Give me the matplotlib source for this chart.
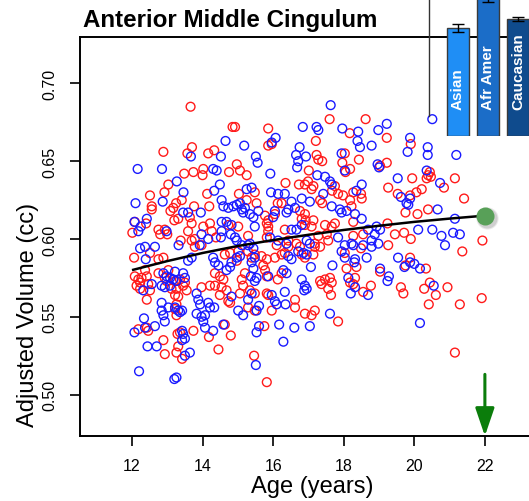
import matplotlib
matplotlib.use("Agg")
import matplotlib.pyplot as plt
import matplotlib.transforms as mtransforms

plt.rcParams['font.family'] = ['Liberation Sans', 'DejaVu Sans']

# Subjects, (age in years, adjusted volume in cc)
red_points = [
    (13.66, 0.685), (14.85, 0.672), (12.89, 0.656), (13.70, 0.659), (13.57, 0.655),
    (14.16, 0.655), (14.33, 0.657), (14.02, 0.645), (13.74, 0.643), (13.48, 0.642),
    (14.00, 0.641), (14.97, 0.648), (14.75, 0.643), (13.03, 0.635), (12.92, 0.630),
    (12.51, 0.628), (14.13, 0.629), (12.56, 0.621), (12.56, 0.619), (13.41, 0.625),
    (13.25, 0.623), (13.17, 0.620), (13.09, 0.618), (13.76, 0.621), (14.19, 0.621),
    (12.08, 0.611), (12.40, 0.610), (12.01, 0.604), (12.75, 0.606), (12.93, 0.606),
    (12.80, 0.603), (13.31, 0.613), (13.64, 0.614), (13.69, 0.610), (13.59, 0.605),
    (13.78, 0.600), (13.69, 0.599), (14.02, 0.608), (14.21, 0.610), (14.26, 0.605),
    (14.38, 0.601), (13.20, 0.612), (14.73, 0.609), (15.03, 0.629), (13.00, 0.603),
    (13.38, 0.599),
    (17.60, 0.677), (18.62, 0.677), (15.86, 0.671), (18.17, 0.668), (17.21, 0.663),
    (15.86, 0.660), (15.96, 0.661), (17.23, 0.654), (17.28, 0.651), (17.39, 0.650),
    (18.03, 0.655), (17.96, 0.649), (18.18, 0.645), (18.05, 0.643), (18.43, 0.651),
    (14.92, 0.672), (15.06, 0.644), (15.25, 0.641), (17.01, 0.644), (16.35, 0.636),
    (16.73, 0.635), (16.90, 0.635), (16.99, 0.637), (17.09, 0.632), (17.14, 0.634),
    (17.75, 0.634), (17.67, 0.631), (17.84, 0.629), (17.98, 0.628), (18.27, 0.630),
    (18.49, 0.629), (15.25, 0.625), (15.48, 0.630), (15.53, 0.623), (16.13, 0.623),
    (16.24, 0.623), (16.05, 0.616), (17.33, 0.625), (17.39, 0.623), (18.18, 0.625),
    (18.51, 0.626), (18.22, 0.621), (15.77, 0.615), (15.86, 0.612), (15.82, 0.610),
    (15.86, 0.608), (16.76, 0.618), (16.90, 0.616), (16.81, 0.613), (16.92, 0.612),
    (16.90, 0.609), (17.14, 0.612), (17.09, 0.608), (17.47, 0.609), (17.66, 0.608),
    (17.75, 0.610), (18.27, 0.611), (16.33, 0.606), (15.01, 0.608), (15.29, 0.602),
    (15.86, 0.605), (15.82, 0.601), (17.28, 0.602), (17.52, 0.603), (17.56, 0.599),
    (18.55, 0.603), (18.27, 0.602), (16.43, 0.599), (16.66, 0.597), (17.18, 0.597),
    (19.22, 0.665), (19.90, 0.661), (19.22, 0.649), (19.03, 0.647), (20.44, 0.643),
    (20.39, 0.641), (20.47, 0.640), (20.35, 0.639), (21.15, 0.639), (19.94, 0.639),
    (19.26, 0.633), (20.21, 0.632), (20.06, 0.630), (19.88, 0.628), (19.53, 0.629),
    (20.84, 0.633), (21.41, 0.626), (20.39, 0.619), (20.09, 0.616), (19.75, 0.617),
    (19.24, 0.610), (19.45, 0.603), (19.71, 0.604), (19.90, 0.600), (21.93, 0.599),
    (19.26, 0.596),
    (12.06, 0.588), (12.75, 0.587), (12.89, 0.588), (12.51, 0.591), (12.08, 0.576),
    (12.18, 0.574), (12.23, 0.572), (12.27, 0.575), (12.13, 0.570), (12.23, 0.568),
    (12.46, 0.571), (12.42, 0.576), (12.51, 0.567), (12.37, 0.580), (12.42, 0.561),
    (12.75, 0.578), (12.93, 0.575), (12.98, 0.573), (13.03, 0.580), (13.22, 0.573),
    (13.36, 0.574), (13.50, 0.572), (13.45, 0.570), (13.55, 0.567), (13.26, 0.568),
    (13.22, 0.564), (13.31, 0.563), (13.12, 0.568), (13.26, 0.558), (13.22, 0.555),
    (13.26, 0.551), (12.18, 0.542), (12.42, 0.543), (12.46, 0.541), (13.29, 0.539),
    (13.36, 0.540), (12.89, 0.535), (12.93, 0.526), (13.26, 0.527), (13.31, 0.531),
    (13.42, 0.523), (13.74, 0.541), (13.97, 0.569), (14.21, 0.570), (14.35, 0.570),
    (14.54, 0.569), (14.68, 0.567), (14.49, 0.564), (14.59, 0.574), (14.73, 0.560),
    (14.78, 0.559), (14.63, 0.545), (14.80, 0.538), (14.18, 0.537), (14.45, 0.529),
    (14.63, 0.590), (14.78, 0.591), (14.97, 0.586), (14.35, 0.578), (14.49, 0.576),
    (13.78, 0.595), (13.97, 0.596),
    (15.82, 0.508), (15.46, 0.525), (15.75, 0.544), (17.84, 0.547), (16.90, 0.552),
    (17.09, 0.551), (17.18, 0.554), (16.62, 0.561), (16.62, 0.556), (15.96, 0.554),
    (15.48, 0.554), (15.29, 0.556), (15.06, 0.565), (15.15, 0.570), (15.11, 0.574),
    (15.20, 0.578), (15.34, 0.567), (15.48, 0.565), (15.82, 0.565), (15.86, 0.564),
    (16.13, 0.574), (16.24, 0.578), (17.33, 0.573), (17.37, 0.571), (17.47, 0.574),
    (17.61, 0.575), (17.56, 0.568), (17.66, 0.572), (17.64, 0.564), (18.08, 0.581),
    (18.18, 0.572), (18.27, 0.571), (18.32, 0.575), (18.36, 0.582), (18.55, 0.566),
    (18.77, 0.570), (15.67, 0.589), (15.82, 0.587), (16.05, 0.588), (16.24, 0.590),
    (16.33, 0.591), (15.72, 0.583), (15.77, 0.580), (15.82, 0.576), (16.81, 0.590),
    (16.90, 0.588), (17.14, 0.590), (17.33, 0.595), (18.03, 0.591), (18.49, 0.594),
    (15.01, 0.592), (15.29, 0.592), (15.39, 0.588), (15.48, 0.590), (16.10, 0.596),
    (16.43, 0.595), (16.76, 0.595), (17.18, 0.595),
    (21.36, 0.592), (19.88, 0.588), (19.75, 0.583), (19.03, 0.579), (20.33, 0.581),
    (19.62, 0.569), (19.69, 0.565), (20.28, 0.568), (20.44, 0.572), (20.61, 0.564),
    (20.41, 0.558), (20.94, 0.569), (21.29, 0.558), (21.91, 0.562), (21.15, 0.527),
]

blue_points = [
    (14.65, 0.663), (12.16, 0.645), (12.85, 0.645), (14.52, 0.653), (13.67, 0.653),
    (14.30, 0.645), (14.40, 0.644), (13.27, 0.637), (14.49, 0.635), (13.46, 0.630),
    (14.33, 0.631), (12.10, 0.623), (12.87, 0.624), (14.54, 0.625), (14.59, 0.621),
    (14.73, 0.620), (14.87, 0.621), (14.97, 0.622), (13.45, 0.617), (13.59, 0.617),
    (13.95, 0.617), (12.07, 0.611), (12.25, 0.608), (12.42, 0.613), (12.18, 0.605),
    (12.98, 0.605), (14.54, 0.611), (14.68, 0.611), (14.82, 0.609), (14.54, 0.605),
    (14.52, 0.601), (14.80, 0.603), (14.92, 0.601), (13.97, 0.603), (14.16, 0.600),
    (13.32, 0.596), (13.92, 0.596),
    (17.63, 0.686), (16.84, 0.672), (17.23, 0.672), (17.28, 0.670), (17.96, 0.671),
    (18.41, 0.669), (16.07, 0.665), (15.96, 0.662), (15.18, 0.660), (16.75, 0.659),
    (18.39, 0.663), (18.46, 0.659), (18.79, 0.660), (16.65, 0.654), (16.93, 0.653),
    (16.71, 0.650), (16.68, 0.646), (15.51, 0.653), (15.56, 0.649), (17.94, 0.655),
    (18.03, 0.644), (18.96, 0.648), (19.00, 0.646), (15.92, 0.642), (17.25, 0.641),
    (17.47, 0.640), (17.61, 0.637), (17.66, 0.635), (18.51, 0.635), (15.94, 0.630),
    (16.14, 0.629), (16.33, 0.629), (17.42, 0.629), (15.25, 0.632), (15.39, 0.633),
    (18.36, 0.631), (16.81, 0.626), (17.04, 0.624), (17.66, 0.621), (16.52, 0.624),
    (16.43, 0.619), (16.62, 0.620), (16.38, 0.617), (15.06, 0.623), (15.11, 0.619),
    (15.15, 0.617), (15.20, 0.620), (15.34, 0.616), (15.44, 0.614), (15.58, 0.618),
    (16.05, 0.618), (16.00, 0.614), (17.89, 0.619), (17.94, 0.617), (18.08, 0.618),
    (18.51, 0.613), (18.32, 0.616), (15.48, 0.608), (16.52, 0.606), (16.66, 0.606),
    (16.81, 0.609), (18.69, 0.606), (18.88, 0.603), (18.93, 0.608), (15.91, 0.601),
    (16.14, 0.599), (16.38, 0.597), (16.95, 0.599), (17.04, 0.597), (17.84, 0.601),
    (18.22, 0.597), (18.03, 0.596), (18.79, 0.599), (18.98, 0.597), (18.55, 0.596),
    (14.97, 0.599), (15.11, 0.596), (15.34, 0.597),
    (20.51, 0.677), (19.22, 0.674), (18.98, 0.670), (19.88, 0.665), (19.81, 0.656),
    (20.38, 0.659), (20.38, 0.654), (21.19, 0.654), (20.35, 0.644), (19.53, 0.639),
    (20.73, 0.636), (19.62, 0.627), (19.88, 0.626), (19.83, 0.622), (19.78, 0.623),
    (20.66, 0.619), (21.15, 0.613), (19.03, 0.606), (20.11, 0.606), (20.51, 0.606),
    (21.10, 0.604), (21.29, 0.603), (20.77, 0.602), (20.87, 0.596),
    (12.23, 0.594), (12.37, 0.595), (12.65, 0.595), (12.39, 0.587), (12.89, 0.578),
    (12.98, 0.576), (13.08, 0.575), (13.22, 0.579), (13.17, 0.574), (12.84, 0.570),
    (12.93, 0.569), (13.08, 0.570), (13.26, 0.573), (13.50, 0.575), (13.45, 0.578),
    (12.56, 0.571), (12.32, 0.567), (12.84, 0.559), (12.84, 0.554), (12.89, 0.551),
    (12.93, 0.547), (13.03, 0.556), (13.22, 0.556), (13.31, 0.554), (13.36, 0.553),
    (13.42, 0.554), (12.34, 0.549), (12.07, 0.540), (12.37, 0.543), (12.65, 0.544),
    (12.44, 0.531), (12.70, 0.531), (13.42, 0.541), (13.45, 0.539), (13.50, 0.536),
    (13.42, 0.535), (13.64, 0.527), (13.50, 0.525), (12.20, 0.515), (13.20, 0.510),
    (13.26, 0.511), (13.83, 0.565), (13.88, 0.561), (13.93, 0.558), (13.83, 0.552),
    (13.97, 0.550), (14.07, 0.551), (14.02, 0.547), (14.07, 0.543), (14.21, 0.556),
    (14.30, 0.541), (14.59, 0.545), (14.16, 0.559), (14.33, 0.556), (14.68, 0.580),
    (14.78, 0.582), (14.82, 0.585), (13.59, 0.586), (13.69, 0.588), (14.30, 0.588),
    (14.35, 0.585), (14.45, 0.583), (14.82, 0.563), (15.01, 0.554),
    (15.51, 0.519), (16.29, 0.534), (15.53, 0.540), (15.60, 0.544), (16.17, 0.545),
    (16.60, 0.543), (17.04, 0.544), (17.61, 0.552), (15.15, 0.551), (15.53, 0.554),
    (15.60, 0.557), (16.05, 0.560), (16.10, 0.558), (16.33, 0.566), (16.35, 0.558),
    (15.96, 0.564), (15.29, 0.561), (15.39, 0.565), (15.48, 0.573), (15.53, 0.575),
    (15.37, 0.576), (15.44, 0.581), (15.39, 0.585), (16.29, 0.580), (16.38, 0.578),
    (15.86, 0.576), (16.81, 0.574), (16.90, 0.570), (16.95, 0.568), (16.88, 0.567),
    (17.07, 0.582), (17.68, 0.583), (18.13, 0.575), (18.32, 0.569), (18.20, 0.565),
    (18.69, 0.564), (18.65, 0.588), (18.32, 0.587), (18.30, 0.585), (17.94, 0.592),
    (18.03, 0.588), (18.27, 0.596), (18.79, 0.595), (15.29, 0.596), (15.44, 0.594),
    (15.48, 0.588), (15.06, 0.589), (14.97, 0.588), (16.43, 0.589), (16.52, 0.587),
    (16.71, 0.592), (16.86, 0.591), (16.95, 0.590),
    (19.54, 0.588), (19.88, 0.585), (20.00, 0.584), (19.72, 0.582), (20.16, 0.581),
    (19.03, 0.581), (19.28, 0.576), (19.24, 0.573), (20.55, 0.570), (20.16, 0.546),
]

# Fitted developmental trajectory
trend_age = [12, 13, 14, 15, 16, 17, 18, 19, 20, 21, 22]
trend_vol = [0.5800, 0.5858, 0.5910, 0.5955, 0.5993, 0.6027, 0.6058, 0.6085, 0.6110, 0.6131, 0.6150]

# Adult (age 22) estimate and its marker arrow
adult_age = 22
adult_vol = 0.615
arrow_start_vol = 0.513

# Ethnicity group means (inset)
groups = ['Asian', 'Afr Amer', 'Caucasian']
group_means = [0.615, 0.793, 0.666]
group_errs = [0.024, 0.028, 0.014]
group_colors = ['#1f8ef5', '#1b6dc8', '#0f4b8d']

x_ticks = [12, 14, 16, 18, 20, 22]
y_ticks = [0.50, 0.55, 0.60, 0.65, 0.70]

W, H = 529, 502
fig = plt.figure(figsize=(W / 100, H / 100), dpi=100)
ax = fig.add_axes([80 / W, 65 / H, 449 / W, 399 / H])
ax.set_xlim(10.527, 23.25)
ax.set_ylim(0.4734, 0.7298)

red_age = [p[0] for p in red_points]
red_vol = [p[1] for p in red_points]
blue_age = [p[0] for p in blue_points]
blue_vol = [p[1] for p in blue_points]

ax.scatter(red_age, red_vol, s=40, facecolors='none', edgecolors='#ff1a1a', linewidths=1.0, zorder=2)
ax.scatter(blue_age, blue_vol, s=40, facecolors='none', edgecolors='#1a1aff', linewidths=1.0, zorder=2)

ax.plot(trend_age, trend_vol, color='black', lw=1.8, zorder=3, solid_capstyle='butt')

# soft drop shadow behind the adult marker
shadow = ax.transData + mtransforms.ScaledTranslation(1.5 / 72, -2.0 / 72, fig.dpi_scale_trans)
for ms, a in [(16, 0.12), (14.5, 0.18)]:
    ax.plot([adult_age], [adult_vol], 'o', ms=ms, color='0.35', alpha=a, mec='none',
            transform=shadow, zorder=4, clip_on=False)
ax.plot([adult_age], [adult_vol], 'o', ms=13, color='#58a058', mec='none', zorder=5, clip_on=False)

ax.annotate('', xy=(adult_age, 0.4734), xytext=(adult_age, arrow_start_vol),
            arrowprops=dict(arrowstyle='-|>,head_length=1.7,head_width=0.58',
                            color='#0b7d0b', lw=2.2, shrinkA=0, shrinkB=0,
                            mutation_scale=10),
            annotation_clip=False, zorder=6)

ax.spines['right'].set_visible(False)
for side in ['left', 'bottom', 'top']:
    ax.spines[side].set_linewidth(1.4)

ax.set_xticks(x_ticks)
ax.set_xticklabels([str(t) for t in x_ticks])
ax.set_yticks(y_ticks)
ax.set_yticklabels([f'{t:.2f}' for t in y_ticks], rotation=90, va='center')
ax.tick_params(direction='out', length=7, width=1.2, labelsize=11.5, pad=9)

ax.set_xlabel('Age (years)', fontsize=17)
ax.xaxis.set_label_coords(232 / 449, -39 / 399)
ax.set_ylabel('Adjusted Volume (cc)', fontsize=17)
ax.yaxis.set_label_coords(-41 / 449, 122 / 399)

fig.text(83 / W, (H - 27) / H, 'Anterior Middle Cingulum', fontsize=17.4,
         fontweight='bold', ha='left', va='baseline')

# Inset bar chart of group means
ins = fig.add_axes([429 / W, 365 / H, 100 / W, 0.35])
ins.patch.set_alpha(0)
ins.set_xlim(-0.967, 2.367)
ins.set_ylim(0, 1)
ins.bar(range(len(groups)), group_means, width=0.73, color=group_colors,
        edgecolor='#3a3a3a', linewidth=1.0, yerr=group_errs, capsize=4,
        error_kw=dict(elinewidth=1.0, capthick=1.0, ecolor='black'))
for i, name in enumerate(groups):
    ins.text(i, 0.154, name, rotation=90, ha='center', va='bottom', color='white',
             fontweight='bold', fontsize=11)
for side in ['right', 'top', 'bottom']:
    ins.spines[side].set_visible(False)
ins.spines['left'].set_bounds(0.114, 1)
ins.spines['left'].set_color('#333333')
ins.spines['left'].set_linewidth(1.0)
ins.set_xticks([])
ins.set_yticks([])

fig.savefig('out.png', dpi=100)
